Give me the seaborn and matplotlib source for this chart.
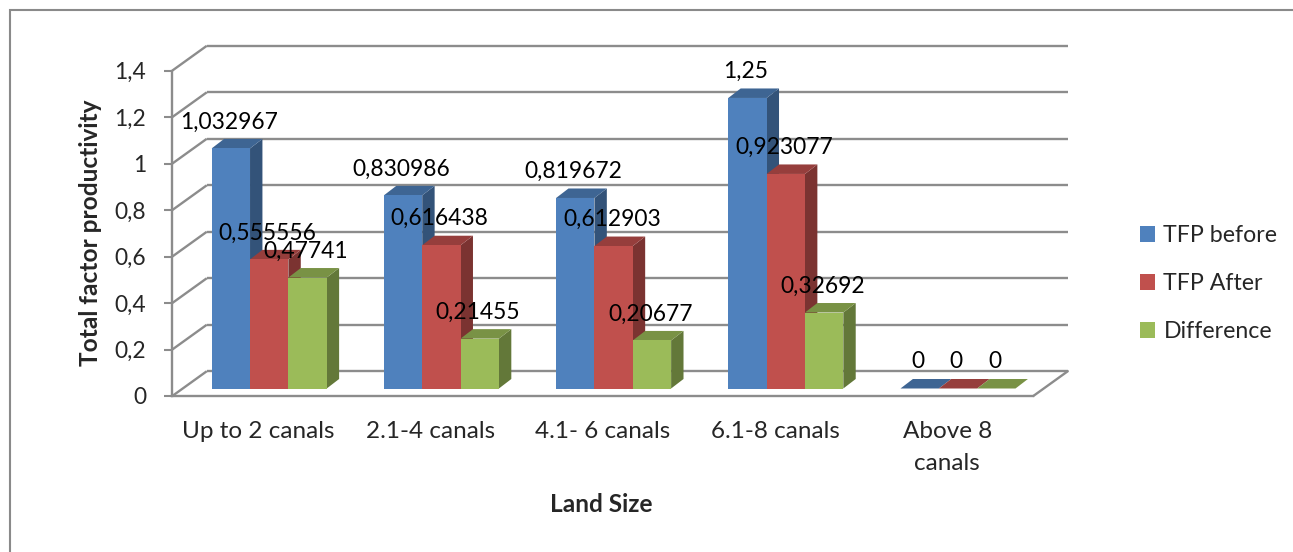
import numpy as np
import pandas as pd
import matplotlib
matplotlib.use("Agg")
import matplotlib.pyplot as plt
import seaborn as sns
from matplotlib.patches import Polygon, Rectangle
from matplotlib.transforms import ScaledTranslation
from matplotlib.colors import to_rgb

# ---------------- data ----------------
categories = ["Up to 2 canals", "2.1-4 canals", "4.1- 6 canals", "6.1-8 canals", "Above 8\ncanals"]
series_names = ["TFP before", "TFP After", "Difference"]
tfp_before = [1.032967, 0.830986, 0.819672, 1.25, 0]
tfp_after = [0.555556, 0.616438, 0.612903, 0.923077, 0]
difference = [0.47741, 0.21455, 0.20677, 0.32692, 0]
y_ticks = [0, 0.2, 0.4, 0.6, 0.8, 1.0, 1.2, 1.4]
y_tick_labels = ["0", "0,2", "0,4", "0,6", "0,8", "1", "1,2", "1,4"]
colors = ["#4F81BD", "#C0504D", "#9BBB59"]

df = pd.DataFrame({
    "category": categories * 3,
    "series": [s for s in series_names for _ in categories],
    "value": tfp_before + tfp_after + difference,
})

def fmt(v):
    s = ("%.6f" % v).rstrip("0").rstrip(".")
    return s.replace(".", ",")

# ---------------- style ----------------
sns.set_theme(style="white")
plt.rcParams["font.family"] = ["Lato", "DejaVu Sans"]
FS_NUM = 16.4      # numbers (data labels, y ticks)
FS_CAT = 17.5      # category labels
FS_BOLD = 17.6     # axis titles
FS_LEG = 16.7      # legend
GRID_C = "#8C8C8C"
W_PX, H_PX, DPI = 1293, 552, 100

fig = plt.figure(figsize=(W_PX / DPI, H_PX / DPI), dpi=DPI)
fig.patch.set_facecolor("white")

# axes = front plane of the 3D box
ax_left, ax_right, ax_bottom, ax_top = 172.3, 1033.3, 396.0, 70.6
ax = fig.add_axes([ax_left / W_PX, 1 - ax_bottom / H_PX,
                   (ax_right - ax_left) / W_PX, (ax_bottom - ax_top) / H_PX])
ax.set_facecolor("none")

sns.barplot(data=df, x="category", y="value", hue="series", order=categories,
            hue_order=series_names, palette=colors, saturation=1, width=0.668,
            linewidth=0, errorbar=None, legend=False, ax=ax)

ax.set_xlim(-0.5, len(categories) - 0.5)
ax.set_ylim(0, 1.4)

# pixel per data unit
p0 = ax.transData.transform((0, 0))
p1 = ax.transData.transform((1, 1))
sx, sy = p1[0] - p0[0], p1[1] - p0[1]

BAR_DX, BAR_DY = 10.8, 7.5        # bar plane offset from front plane (px)
DEP_DX, DEP_DY = 12.4, 9.5        # bar depth (px)
BACK_DX, BACK_DY = 34.5, 24.8     # back wall offset (px)

bar_shift = ax.transData + ScaledTranslation(BAR_DX / DPI, BAR_DY / DPI, fig.dpi_scale_trans)
ddx, ddy = DEP_DX / sx, DEP_DY / sy
bdx, bdy = BACK_DX / sx, BACK_DY / sy

def shade(c, f):
    r, g, b = to_rgb(c)
    return (r * f, g * f, b * f)

bars = []
for i, cont in enumerate(ax.containers):
    for bar in cont:
        bars.append((bar.get_x(), i, bar))
bars.sort(key=lambda t: t[0])

for k, (x0, i, bar) in enumerate(bars):
    w = bar.get_width()
    h = bar.get_height()
    x1 = x0 + w
    base_z = 10 + 3 * k
    bar.set_transform(bar_shift)
    bar.set_zorder(base_z + 1)
    side = Polygon([(x1, 0), (x1 + ddx, ddy), (x1 + ddx, h + ddy), (x1, h)],
                   closed=True, facecolor=shade(colors[i], 0.64), edgecolor="none",
                   transform=bar_shift, zorder=base_z, clip_on=False)
    top = Polygon([(x0, h), (x1, h), (x1 + ddx, h + ddy), (x0 + ddx, h + ddy)],
                  closed=True, facecolor=shade(colors[i], 0.78), edgecolor="none",
                  transform=bar_shift, zorder=base_z, clip_on=False)
    ax.add_patch(side)
    ax.add_patch(top)
    ax.annotate(fmt(h), xy=(x0 + w / 2, h), xytext=(9, 34), textcoords="offset pixels",
                ha="center", va="center", fontsize=FS_NUM, color="black", zorder=200,
                annotation_clip=False)

# back wall, side wall and floor lines
xlo, xhi = ax.get_xlim()
for v in y_ticks:
    ax.plot([xlo + bdx, xhi + bdx], [v + bdy, v + bdy], color=GRID_C, lw=1.7,
            clip_on=False, zorder=1, solid_capstyle="butt")
    ax.plot([xlo, xlo + bdx], [v, v + bdy], color=GRID_C, lw=1.7,
            clip_on=False, zorder=1, solid_capstyle="butt")
ax.plot([xhi, xhi + bdx], [0, bdy], color=GRID_C, lw=1.7, clip_on=False, zorder=1)

# spines / ticks
for s in ["top", "right"]:
    ax.spines[s].set_visible(False)
for s in ["left", "bottom"]:
    ax.spines[s].set_color(GRID_C)
    ax.spines[s].set_linewidth(1.7)
    ax.spines[s].set_zorder(2)
ax.set_yticks(y_ticks, y_tick_labels)
ax.tick_params(axis="y", length=5.8, width=1.5, color=GRID_C, pad=13, labelsize=FS_NUM,
               direction="out", left=True)
ax.tick_params(axis="x", length=0, pad=18, labelsize=FS_CAT)
for lab in ax.get_xticklabels():
    lab.set_linespacing(1.62)
ax.set_xlabel("")
ax.set_ylabel("")
ax.grid(False)

fig.text(90.5 / W_PX, 1 - 233 / H_PX, "Total factor productivity", rotation=90,
         ha="center", va="center", fontsize=FS_BOLD, fontweight="bold")
fig.text(601 / W_PX, 1 - 504 / H_PX, "Land Size", ha="center", va="center",
         fontsize=FS_BOLD, fontweight="bold")

handles = [Rectangle((0, 0), 1, 1, facecolor=c, edgecolor="none") for c in colors]
fig.legend(handles, series_names, loc="center left",
           bbox_to_anchor=(1140 / W_PX, 1 - 283.5 / H_PX), frameon=False,
           fontsize=FS_LEG, handlelength=0.66, handleheight=0.66, handletextpad=0.35,
           labelspacing=1.17, borderpad=0, borderaxespad=0)

# outer chart border
fig.add_artist(Rectangle((9.5 / W_PX, -0.1), 1.5, 1.1 - 9.5 / H_PX, transform=fig.transFigure,
                         fill=False, edgecolor="#8A8A8A", lw=1.5))

fig.savefig("out.png", dpi=DPI)
